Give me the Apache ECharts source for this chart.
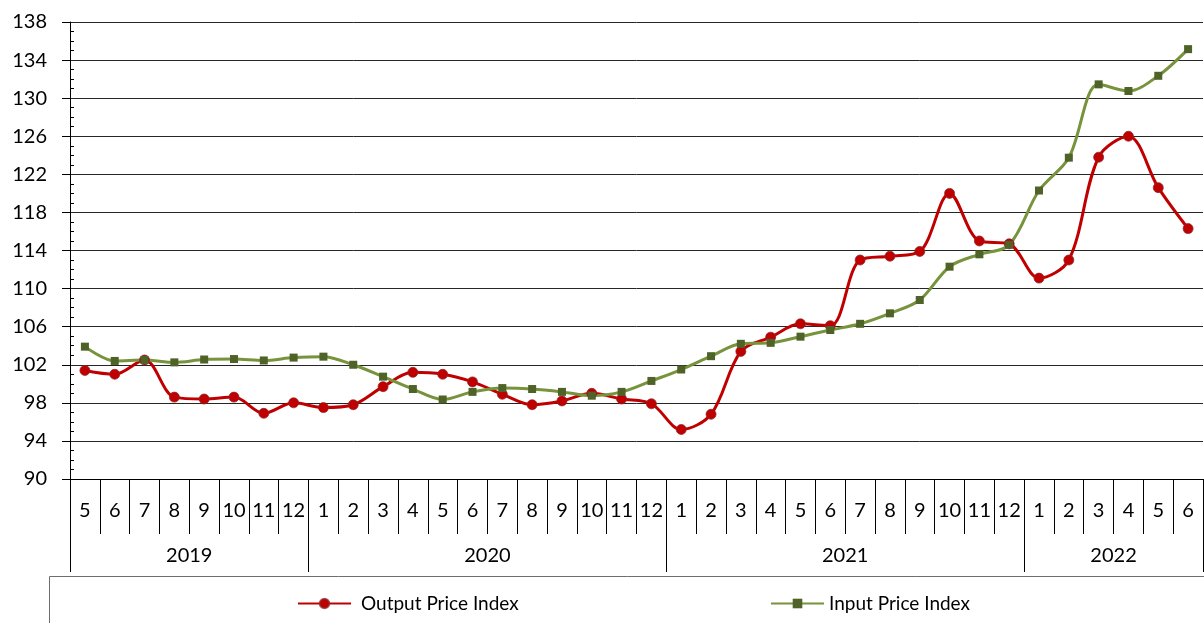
<!DOCTYPE html>
<html>
<head>
<meta charset="utf-8">
<script src="https://cdn.jsdelivr.net/npm/echarts@6/dist/echarts.min.js"></script>
<style>
html,body{margin:0;padding:0;background:#fff;}
#c{width:1204px;height:623px;}
</style>
</head>
<body>
<div id="c"></div>
<script>
var months = ['5','6','7','8','9','10','11','12',
  '1','2','3','4','5','6','7','8','9','10','11','12',
  '1','2','3','4','5','6','7','8','9','10','11','12',
  '1','2','3','4','5','6'];
var years = ['2019','2020','2021','2022'];
var yearMonthCounts = [8, 12, 12, 6];
var outputPriceIndex = [101.4,101.0,102.5,98.6,98.4,98.6,96.9,98.0,
  97.5,97.8,99.7,101.2,101.0,100.2,98.9,97.8,98.2,99.0,98.4,97.9,
  95.2,96.8,103.4,104.9,106.3,106.1,113.0,113.4,113.9,120.0,115.0,114.7,
  111.1,113.0,123.8,126.0,120.6,116.3];
var inputPriceIndex = [103.9,102.4,102.5,102.25,102.55,102.6,102.45,102.75,
  102.85,102.0,100.75,99.45,98.35,99.15,99.55,99.45,99.15,98.75,99.15,100.3,
  101.5,102.9,104.2,104.3,104.95,105.65,106.3,107.4,108.8,112.3,113.6,114.6,
  120.3,123.75,131.45,130.75,132.35,135.15];
var yTicks = {min: 90, max: 138, interval: 4};

// year boundaries & centres in category units
var yearBounds = [0], yearCentres = [];
yearMonthCounts.forEach(function (n, i) {
  var s = yearBounds[i];
  yearBounds.push(s + n);
  yearCentres.push(s + n / 2);
});

var FONT = 'Lato';
var chart = echarts.init(document.getElementById('c'), null, {renderer: 'canvas'});
chart.setOption({
  animation: false,
  textStyle: {fontFamily: FONT},
  grid: {left: 70, right: 1, top: 22, bottom: 144, containLabel: false},
  xAxis: [
    {
      type: 'category', data: months, position: 'bottom',
      axisLine: {onZero: false, lineStyle: {color: '#000', width: 1}},
      axisTick: {alignWithLabel: true, inside: true, length: 6, interval: 0, lineStyle: {color: '#000'}},
      axisLabel: {interval: 0, fontSize: 20, lineHeight: 20, color: '#000', margin: 22, fontFamily: FONT},
      splitLine: {show: false}
    },
    {
      type: 'category', data: months, position: 'bottom',
      axisLine: {show: false, onZero: false},
      axisTick: {show: true, interval: 0, length: 55, lineStyle: {color: '#000'}},
      axisLabel: {show: false},
      splitLine: {show: false}
    },
    {
      type: 'value', min: 0, max: months.length, position: 'bottom',
      axisLine: {show: false, onZero: false},
      axisTick: {show: true, customValues: yearBounds, length: 93, lineStyle: {color: '#000'}},
      axisLabel: {
        show: true, customValues: yearCentres, fontSize: 20, lineHeight: 20, color: '#000', margin: 67, fontFamily: FONT,
        formatter: function (v) {
          var i = yearCentres.indexOf(v);
          return i >= 0 ? years[i] : '';
        }
      },
      splitLine: {show: false}
    }
  ],
  yAxis: [
    {
      type: 'value', position: 'left', min: yTicks.min, max: yTicks.max, interval: yTicks.interval,
      axisLine: {show: true, onZero: false, lineStyle: {color: '#000', width: 1}},
      axisTick: {show: true, length: 8, lineStyle: {color: '#000'}},
      axisLabel: {fontSize: 20, color: '#000', margin: 23, fontFamily: FONT},
      splitLine: {show: true, lineStyle: {color: '#262626', width: 1}}
    },
    {
      type: 'value', position: 'left', min: yTicks.min, max: yTicks.max, interval: yTicks.interval,
      axisLine: {show: false, onZero: false},
      axisTick: {show: false, inside: true},
      minorTick: {show: true, splitNumber: 4, length: 4, lineStyle: {color: '#000'}},
      axisLabel: {show: false},
      splitLine: {show: false}
    }
  ],
  legend: [
    {
      data: ['Output Price Index'], left: 297, top: 594, padding: 0,
      itemWidth: 53, itemHeight: 12, itemGap: 0,
      textStyle: {fontSize: 19, color: '#000', fontFamily: FONT, padding: [0, 0, 0, 5]}
    },
    {
      data: ['Input Price Index'], left: 770, top: 594, padding: 0,
      itemWidth: 53, itemHeight: 12, itemGap: 0,
      textStyle: {fontSize: 19, color: '#000', fontFamily: FONT, padding: [0, 0, 0, 0]}
    }
  ],
  graphic: [
    {
      type: 'rect', silent: true, z: -1,
      shape: {x: 49.5, y: 576.5, width: 1200, height: 80},
      style: {fill: 'none', stroke: '#6e6e6e', lineWidth: 1}
    }
  ],
  series: [
    {
      name: 'Output Price Index', type: 'line', data: outputPriceIndex,
      xAxisIndex: 0, yAxisIndex: 0, smooth: 0.33,
      symbol: 'circle', symbolSize: 10,
      lineStyle: {color: '#C00000', width: 3},
      itemStyle: {color: '#C00000', borderColor: 'rgba(140,40,40,0.75)', borderWidth: 1}
    },
    {
      name: 'Input Price Index', type: 'line', data: inputPriceIndex,
      xAxisIndex: 0, yAxisIndex: 0, smooth: 0.33,
      symbol: 'rect', symbolSize: 8,
      lineStyle: {color: '#77933C', width: 3},
      itemStyle: {color: '#4F6228'}
    }
  ]
});
</script>
</body>
</html>
